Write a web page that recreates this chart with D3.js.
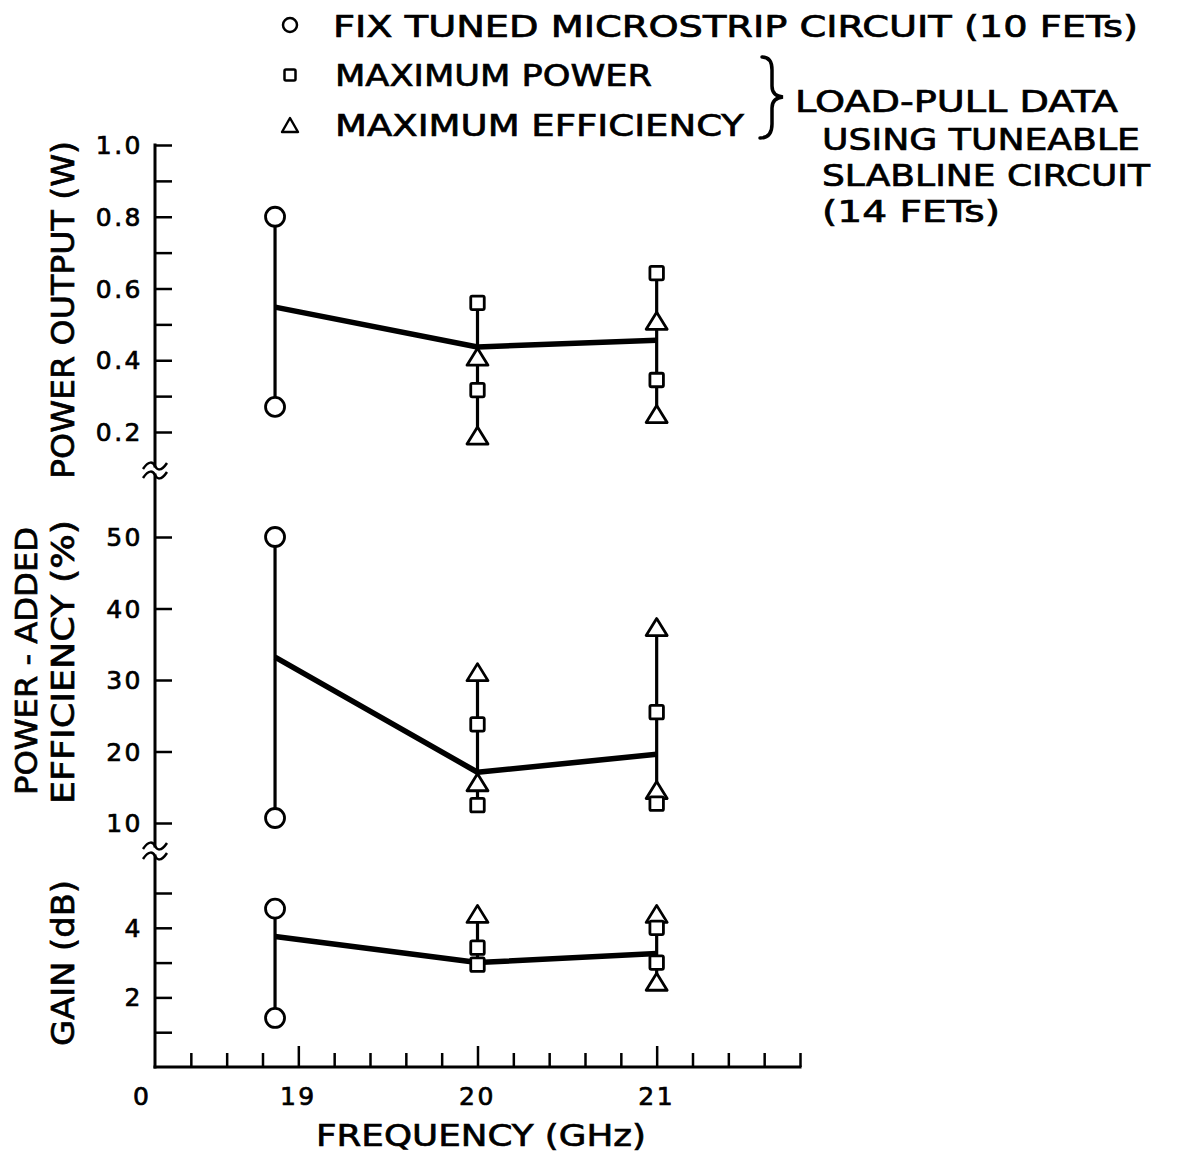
<!DOCTYPE html>
<html><head><meta charset="utf-8">
<script src="https://cdn.jsdelivr.net/npm/d3@7/dist/d3.min.js"></script>
<style>html,body{margin:0;padding:0;background:#fff;}svg{display:block;}</style>
</head><body>
<script>
// ---- DATA ----
const fixFreq = 18.87;            // fix tuned microstrip circuit frequency (GHz)
const lpFreqs = [20, 21];         // load-pull frequencies (GHz)

// Power output (W)
const powerFix = [0.80, 0.27];
const powerMaxP = [[0.56, 0.317], [0.643, 0.345]];
const powerMaxE = [[0.41, 0.19], [0.51, 0.25]];
const powerMean = [0.548, 0.437, 0.456];

// Power-added efficiency (%)
const effFix = [50, 10.7];
const effMaxP = [[23.8, 12.5], [25.5, 12.7]];
const effMaxE = [[31.1, 15.7], [37.4, 14.6]];
const effMean = [33.2, 17.1, 19.6];

// Gain (dB)
const gainFix = [4.55, 1.41];
const gainMaxP = [[3.43, 2.94], [4.0, 3.0]];
const gainMaxE = [[4.4], [4.4, 2.45]];
const gainMean = [3.75, 3.0, 3.26];

// Tick labels
const powerTickLabels = [0.2, 0.4, 0.6, 0.8, 1.0];
const effTickLabels = [10, 20, 30, 40, 50];
const gainTickLabels = [2, 4];
const freqTickLabels = [19, 20, 21];

const legendLines = ["FIX TUNED MICROSTRIP CIRCUIT  (10 FETs)", "MAXIMUM POWER", "MAXIMUM EFFICIENCY"];
const braceLines = ["LOAD-PULL DATA", "USING TUNEABLE", "SLABLINE CIRCUIT", "(14 FETs)"];

// ---- DRAW ----
const W = 1187, H = 1154;
const svg = d3.select("body").append("svg").attr("width", W).attr("height", H);
const FONT = "DejaVu Sans";
const INK = "#000";

const x = d3.scaleLinear().domain([18.2, 21.8]).range([155, 800]);
const yP = d3.scaleLinear().domain([0.2, 1.0]).range([432, 145]);
const yE = d3.scaleLinear().domain([10, 50]).range([823, 537]);
const yG = d3.scaleLinear().domain([0, 5]).range([1067, 893]);

function txt(g, s, px, py, len, size, anchor, ls) {
  const t = g.append("text").attr("x", px).attr("y", py).text(s)
    .attr("font-family", FONT).attr("font-size", size).attr("fill", INK)
    .attr("stroke", INK).attr("stroke-width", 0.7)
    .attr("text-anchor", anchor || "start");
  if (len) t.attr("textLength", len).attr("lengthAdjust", "spacingAndGlyphs");
  if (ls) t.attr("letter-spacing", ls);
  return t;
}

// Y axis segments (broken)
const axX = x(18.2);
function axisSeg(y0, y1) {
  svg.append("line").attr("x1", axX).attr("x2", axX).attr("y1", y0).attr("y2", y1)
    .attr("stroke", INK).attr("stroke-width", 3).attr("stroke-linecap", "square");
}
axisSeg(yP(1.0), 466);
axisSeg(475, 846);
axisSeg(856, yG(0));

// break squiggles
function squiggle(cy) {
  const p = d3.path();
  p.moveTo(axX - 12, cy + 3);
  p.bezierCurveTo(axX - 6, cy - 6, axX - 2, cy - 4, axX, cy);
  p.bezierCurveTo(axX + 2, cy + 4, axX + 6, cy + 6, axX + 12, cy - 3);
  svg.append("path").attr("d", p.toString()).attr("fill", "none")
    .attr("stroke", INK).attr("stroke-width", 2.5);
}
squiggle(466); squiggle(475);
squiggle(846); squiggle(856);

// Y axes (ticks to the right)
function yAxis(scale, ticks, labels, fmt) {
  const g = svg.append("g").attr("transform", `translate(${axX},0)`)
    .call(d3.axisRight(scale).tickValues(ticks).tickSize(17).tickFormat(""));
  g.select(".domain").remove();
  g.selectAll(".tick line").attr("stroke", INK).attr("stroke-width", 2.5);
  labels.forEach(v => txt(svg, fmt(v), axX - 12, scale(v) + 9, null, 25, "end", 2.5));
}
yAxis(yP, d3.range(0.2, 1.01, 0.1), powerTickLabels, d => d.toFixed(1));
yAxis(yE, effTickLabels, effTickLabels, d => String(d));
yAxis(yG, [1, 2, 3, 4, 5], gainTickLabels, d => String(d));

// X axis
const xTicks = d3.range(18.4, 21.81, 0.2).map(v => +v.toFixed(1));
const xg = svg.append("g").attr("transform", `translate(0,${yG(0)})`)
  .call(d3.axisTop(x).tickValues(xTicks).tickSize(14).tickFormat(""));
xg.select(".domain").remove();
xg.selectAll(".tick line").attr("stroke", INK).attr("stroke-width", 2.5)
  .attr("y2", d => (freqTickLabels.includes(d) ? -21 : -14));
svg.append("line").attr("x1", axX).attr("x2", x(21.8)).attr("y1", yG(0)).attr("y2", yG(0))
  .attr("stroke", INK).attr("stroke-width", 3).attr("stroke-linecap", "square");
freqTickLabels.forEach(v => txt(svg, String(v), x(v), 1105, null, 25, "middle", 2.5));
txt(svg, "0", 141, 1105, null, 25, "middle");
txt(svg, "FREQUENCY  (GHz)", 316, 1146, 330, 31);

// Axis titles (rotated)
function vtxt(s, cx, cy, len, size) {
  svg.append("text").attr("transform", `translate(${cx},${cy}) rotate(-90)`)
    .attr("text-anchor", "middle").attr("font-family", FONT).attr("font-size", size)
    .attr("fill", INK).attr("stroke", INK).attr("stroke-width", 0.7)
    .attr("textLength", len).attr("lengthAdjust", "spacingAndGlyphs")
    .text(s);
}
vtxt("POWER  OUTPUT  (W)", 74, 310, 338, 32);
vtxt("POWER - ADDED", 37, 661, 268, 31);
vtxt("EFFICIENCY  (%)", 74, 662, 284, 32);
vtxt("GAIN  (dB)", 74, 963, 166, 32);

// Markers
function circ(g, cx, cy, r, sw) {
  g.append("circle").attr("cx", cx).attr("cy", cy).attr("r", r)
    .attr("fill", "#fff").attr("stroke", INK).attr("stroke-width", sw);
}
function sq(g, cx, cy, s, sw) {
  g.append("rect").attr("x", cx - s / 2).attr("y", cy - s / 2).attr("width", s).attr("height", s)
    .attr("rx", 1.5).attr("fill", "#fff").attr("stroke", INK).attr("stroke-width", sw);
}
function tri(g, cx, cy, w, h, sw) {
  g.append("path").attr("d", `M${cx},${cy - h / 2} L${cx + w / 2},${cy + h / 2} L${cx - w / 2},${cy + h / 2} Z`)
    .attr("fill", "#fff").attr("stroke", INK).attr("stroke-width", sw).attr("stroke-linejoin", "round");
}

// Panels
function panel(y, fix, maxP, maxE, mean) {
  const g = svg.append("g");
  const fx = x(fixFreq);
  g.append("line").attr("x1", fx).attr("x2", fx).attr("y1", y(d3.max(fix))).attr("y2", y(d3.min(fix)))
    .attr("stroke", INK).attr("stroke-width", 3.2);
  lpFreqs.forEach((f, i) => {
    const all = maxP[i].concat(maxE[i]);
    g.append("line").attr("x1", x(f)).attr("x2", x(f))
      .attr("y1", y(d3.max(all))).attr("y2", y(d3.min(all)))
      .attr("stroke", INK).attr("stroke-width", 3.2);
  });
  const pts = [[fixFreq, mean[0]], [lpFreqs[0], mean[1]], [lpFreqs[1], mean[2]]];
  g.append("path").attr("d", d3.line().x(d => x(d[0])).y(d => y(d[1]))(pts))
    .attr("fill", "none").attr("stroke", INK).attr("stroke-width", 5.5).attr("stroke-linejoin", "round");
  fix.forEach(v => circ(g, fx, y(v), 9.5, 2.8));
  lpFreqs.forEach((f, i) => {
    maxE[i].forEach(v => tri(g, x(f), y(v), 21, 17, 2.8));
    maxP[i].forEach(v => sq(g, x(f), y(v), 13.5, 2.8));
  });
}
panel(yP, powerFix, powerMaxP, powerMaxE, powerMean);
panel(yE, effFix, effMaxP, effMaxE, effMean);
panel(yG, gainFix, gainMaxP, gainMaxE, gainMean);

// Legend
const lg = svg.append("g");
circ(lg, 290, 25, 7, 2.5);
sq(lg, 290, 75, 11, 2.5);
tri(lg, 290, 125, 16, 14, 2.4);
txt(lg, legendLines[0], 333, 37, 805, 30);
txt(lg, legendLines[1], 335, 86, 317, 30);
txt(lg, legendLines[2], 335, 136, 409, 30);
lg.append("path")
  .attr("d", "M762,57 Q772,57 772,70 L772,86 Q772,96 783,97 Q772,98 772,108 L772,124 Q772,138 760,138")
  .attr("fill", "none").attr("stroke", INK).attr("stroke-width", 3.5).attr("stroke-linecap", "round");
txt(lg, braceLines[0], 795, 112, 323, 30);
txt(lg, braceLines[1], 822, 150, 318, 30);
txt(lg, braceLines[2], 822, 186, 328, 30);
txt(lg, braceLines[3], 822, 222, 178, 30);
</script>
</body></html>
